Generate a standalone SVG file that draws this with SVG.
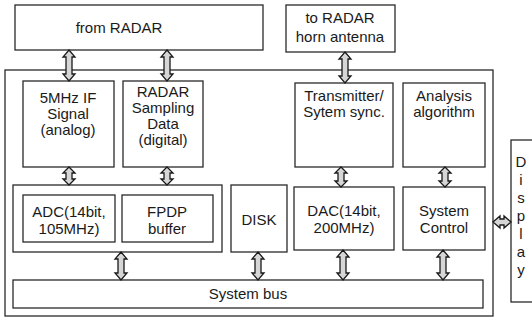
<svg xmlns="http://www.w3.org/2000/svg" width="532" height="320" viewBox="0 0 532 320">
<style>
.box{fill:#fff;stroke:#2a2a2a;stroke-width:1.3}
.arr{fill:#d6d6d6;stroke:#1a1a1a;stroke-width:1.3;stroke-linejoin:miter}
text{font-family:"Liberation Sans",Arial,sans-serif;font-size:15px;fill:#1a1a1a;text-anchor:middle}
</style>
<rect width="532" height="320" fill="#fff"/>
<g id="outer"><rect class="box" x="5" y="70" width="488" height="246"/></g>
<g id="from-radar"><rect class="box" x="15" y="5" width="248" height="45"/><text x="119" y="33">from RADAR</text></g>
<g id="to-radar"><rect class="box" x="286" y="5" width="109" height="47"/><text x="340" y="23">to RADAR</text><text x="340" y="42">horn antenna</text></g>
<g id="if-signal"><rect class="box" x="23" y="81" width="91" height="86"/><text x="68" y="103">5MHz IF</text><text x="68" y="119">Signal</text><text x="68" y="135">(analog)</text></g>
<g id="sampling"><rect class="box" x="123" y="81" width="80" height="86"/><text x="163" y="97">RADAR</text><text x="163" y="113">Sampling</text><text x="163" y="129">Data</text><text x="163" y="145">(digital)</text></g>
<g id="transmitter"><rect class="box" x="295" y="83" width="98" height="84"/><text x="344" y="101">Transmitter/</text><text x="344" y="117">Sytem sync.</text></g>
<g id="analysis"><rect class="box" x="403" y="83" width="82" height="84"/><text x="444" y="101">Analysis</text><text x="444" y="117">algorithm</text></g>
<g id="adc-group"><rect class="box" x="13" y="185" width="209" height="67"/></g>
<g id="adc"><rect class="box" x="23" y="195" width="92" height="47"/><text x="69" y="217">ADC(14bit,</text><text x="69" y="234">105MHz)</text></g>
<g id="fpdp"><rect class="box" x="122" y="195" width="91" height="47"/><text x="167" y="217">FPDP</text><text x="167" y="234">buffer</text></g>
<g id="disk"><rect class="box" x="231" y="185" width="56" height="67"/><text x="259" y="225">DISK</text></g>
<g id="dac"><rect class="box" x="294" y="187" width="100" height="63"/><text x="344" y="216">DAC(14bit,</text><text x="344" y="233">200MHz)</text></g>
<g id="sysctl"><rect class="box" x="403" y="187" width="82" height="63"/><text x="444" y="216">System</text><text x="444" y="233">Control</text></g>
<g id="bus"><rect class="box" x="13" y="280" width="470" height="28"/><text x="248" y="299">System bus</text></g>
<g id="display"><rect class="box" x="511" y="140" width="30" height="162"/>
<text x="521" y="167">D</text><text x="521" y="185">i</text><text x="521" y="203">s</text><text x="521" y="221">p</text><text x="521" y="239">l</text><text x="521" y="257">a</text><text x="521" y="275">y</text></g>
<g id="connectors">
<polygon class="arr" points="69,50 75,57 72,57 72,74 75,74 69,81 63,74 66,74 66,57 63,57"/>
<polygon class="arr" points="167,50 173,57 170,57 170,74 173,74 167,81 161,74 164,74 164,57 161,57"/>
<polygon class="arr" points="345,52 351,59 348,59 348,76 351,76 345,83 339,76 342,76 342,59 339,59"/>
<polygon class="arr" points="69,167 75,173 72,173 72,179 75,179 69,185 63,179 66,179 66,173 63,173"/>
<polygon class="arr" points="167,167 173,173 170,173 170,179 173,179 167,185 161,179 164,179 164,173 161,173"/>
<polygon class="arr" points="341,167 347,173 344,173 344,181 347,181 341,187 335,181 338,181 338,173 335,173"/>
<polygon class="arr" points="445,167 451,173 448,173 448,181 451,181 445,187 439,181 442,181 442,173 439,173"/>
<polygon class="arr" points="121,252 127,259 124,259 124,273 127,273 121,280 115,273 118,273 118,259 115,259"/>
<polygon class="arr" points="258,252 264,259 261,259 261,273 264,273 258,280 252,273 255,273 255,259 252,259"/>
<polygon class="arr" points="343,250 349,257 346,257 346,273 349,273 343,280 337,273 340,273 340,257 337,257"/>
<polygon class="arr" points="443,250 449,257 446,257 446,273 449,273 443,280 437,273 440,273 440,257 437,257"/>
<polygon class="arr" points="493,222 500,216 500,219 504,219 504,216 511,222 504,228 504,225 500,225 500,228"/>
</g>
</svg>
